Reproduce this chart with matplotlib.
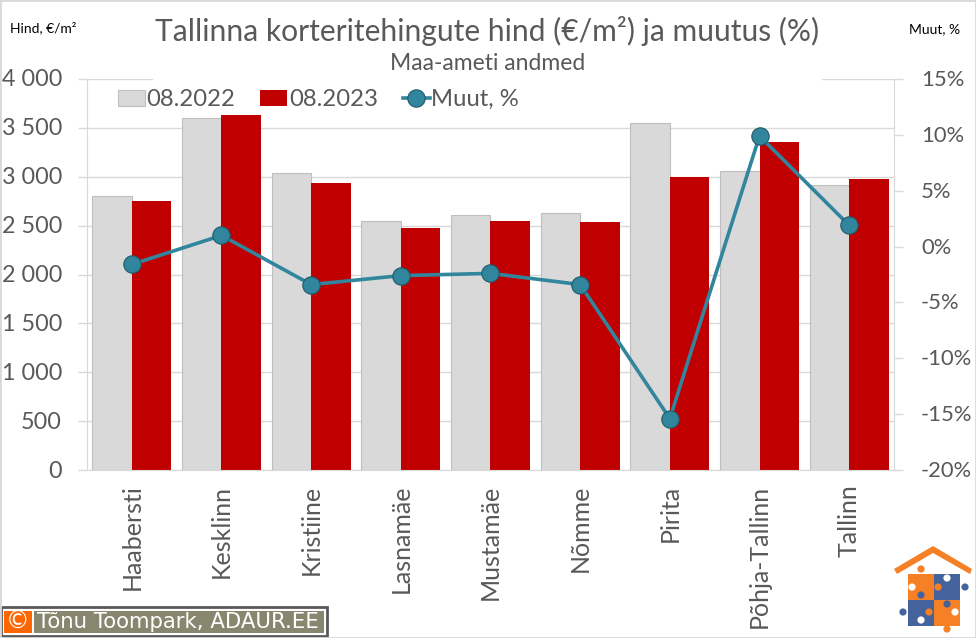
import matplotlib
matplotlib.use('Agg')
import matplotlib.pyplot as plt
import matplotlib.transforms as mtransforms
import numpy as np
from matplotlib.patches import Rectangle, Circle, Polygon

plt.rcParams['font.family'] = ['Lato', 'DejaVu Sans']

# Data
districts = ['Haabersti', 'Kesklinn', 'Kristiine', 'Lasnamäe', 'Mustamäe',
             'Nõmme', 'Pirita', 'Põhja-Tallinn', 'Tallinn']
price_2022 = [2800, 3600, 3040, 2550, 2610, 2630, 3550, 3060, 2920]
price_2023 = [2750, 3630, 2940, 2480, 2545, 2535, 3000, 3360, 2975]
change_pct = [-1.6, 1.0, -3.4, -2.6, -2.4, -3.4, -15.4, 9.9, 1.9]

left_ticks = [0, 500, 1000, 1500, 2000, 2500, 3000, 3500, 4000]
left_labels = ['0', '500', '1 000', '1 500', '2 000', '2 500', '3 000', '3 500', '4 000']
right_ticks = [-20, -15, -10, -5, 0, 5, 10, 15]

W, H = 976, 638
TEXT = '#595959'
GRID = '#d9d9d9'
GREY_BAR = '#d9d9d9'
RED_BAR = '#c00000'
LINE = '#31859c'


def px_x(x):
    return x / W


def px_y(y):
    return 1 - y / H


fig = plt.figure(figsize=(W / 100, H / 100), dpi=100)
fig.patch.set_facecolor('white')

ax = fig.add_axes([px_x(87), px_y(470), (894 - 87) / W, (470 - 79) / H])
x = np.arange(len(districts))
width = 0.44

ax.bar(x - width / 2, price_2022, width, color=GREY_BAR, edgecolor='#bfbfbf', linewidth=0.8, label='08.2022', zorder=2)
ax.bar(x + width / 2, price_2023, width, color=RED_BAR, label='08.2023', zorder=2)
ax.set_xlim(-0.5, len(districts) - 0.5)
ax.set_ylim(0, 4000)
ax.set_yticks(left_ticks)
ax.set_yticklabels(left_labels, fontsize=16.8, color=TEXT)
ax.set_xticks(x)
ax.set_xticklabels(districts, rotation=90, fontsize=18, color=TEXT)
ax.tick_params(axis='x', length=0, pad=10.5)
ax.tick_params(axis='y', length=6.5, color=GRID, width=1, pad=11.5)
ax.grid(axis='y', color=GRID, linewidth=1, zorder=0)
ax.set_axisbelow(True)
for side in ['top', 'right']:
    ax.spines[side].set_visible(False)
for side in ['left', 'bottom']:
    ax.spines[side].set_color(GRID)

ax2 = ax.twinx()
ax2.plot(x, change_pct, color=LINE, linewidth=2.6, marker='o', markersize=12.5,
         markerfacecolor=LINE, markeredgecolor='#215968', markeredgewidth=0.8,
         label='Muut, %', zorder=5)
ax2.set_ylim(-20, 15)
ax2.set_yticks(right_ticks)
ax2.set_yticklabels([f'{t}%' for t in right_ticks], fontsize=15.8, color=TEXT)
ax2.tick_params(axis='y', length=6.5, color=GRID, width=1, pad=13)
for side in ['top', 'left', 'bottom']:
    ax2.spines[side].set_visible(False)
ax2.spines['right'].set_color(GRID)

# tick labels sit a pixel above their ticks in the reference
nudge = mtransforms.ScaledTranslation(0, 1 / 100, fig.dpi_scale_trans)
for lab in ax.get_yticklabels() + ax2.get_yticklabels():
    lab.set_transform(lab.get_transform() + nudge)

# Legend sits on top of the plot
handles = ax.get_legend_handles_labels()[0] + ax2.get_legend_handles_labels()[0]
labels = ax.get_legend_handles_labels()[1] + ax2.get_legend_handles_labels()[1]
leg = ax2.legend(handles, labels, ncol=3, loc='center left', frameon=False, fontsize=17.2,
                 bbox_to_anchor=((118 - 87) / 807, 0.947), labelcolor=TEXT,
                 handlelength=1.13, handletextpad=0.06, columnspacing=1.05, borderaxespad=0,
                 borderpad=0)

# Titles and the axis captions
fig.text(px_x(487), px_y(31), 'Tallinna korteritehingute hind (€/m²) ja muutus (%)',
         fontsize=21.6, color=TEXT, ha='center', va='center')
fig.text(px_x(488), px_y(64), 'Maa-ameti andmed', fontsize=16.5, color=TEXT, ha='center', va='center')
fig.text(px_x(10), px_y(28), 'Hind, €/m²', fontsize=10, color='black', ha='left', va='center')
fig.text(px_x(909), px_y(29), 'Muut, %', fontsize=10, color='black', ha='left', va='center')

# Outer border of the picture
fig.add_artist(Rectangle((0, 0), 1, 1, transform=fig.transFigure, fill=False, edgecolor='#d9d9d9', linewidth=2))

# Overlay in pixel coordinates for the bits that are not chart data
px = fig.add_axes([0, 0, 1, 1], facecolor='none')
px.set_xlim(0, W)
px.set_ylim(H, 0)
px.axis('off')

# the subtitle box hides the middle of the top gridline
px.add_patch(Rectangle((153, 76), 669, 5, facecolor='white', edgecolor='none'))

# Copyright badge
px.add_patch(Rectangle((1, 607), 326, 29, facecolor='white', edgecolor='#595959', linewidth=2))
px.add_patch(Rectangle((4, 611), 28, 22, facecolor='#ff6600', edgecolor='none'))
px.add_patch(Rectangle((34, 611), 290, 22, facecolor='#87876f', edgecolor='none'))
px.text(18, 622, '©', fontsize=17, color='white', ha='center', va='center', family='DejaVu Sans')
px.text(37, 622.5, 'Tõnu Toompark, ADAUR.EE', fontsize=15.3, color='white', ha='left', va='center',
        family='DejaVu Sans')

# House and puzzle logo
ORANGE = '#f58025'
BLUE = '#44629c'
px.add_patch(Polygon([(894, 569), (933, 546), (972, 569), (970, 574), (933, 553), (897, 574)],
                     facecolor=ORANGE, edgecolor='none'))
px.add_patch(Rectangle((908, 574), 26, 26, facecolor=ORANGE, edgecolor='none'))
px.add_patch(Rectangle((934, 574), 26, 26, facecolor=BLUE, edgecolor='none'))
px.add_patch(Rectangle((908, 600), 26, 26, facecolor=BLUE, edgecolor='none'))
px.add_patch(Rectangle((934, 600), 26, 26, facecolor=ORANGE, edgecolor='none'))
for cx, cy, col in [(921, 569, ORANGE), (912, 587, 'white'), (938, 587, ORANGE), (947, 578, 'white'),
                    (965, 587, BLUE), (921, 595, BLUE), (903, 612, BLUE), (947, 604, BLUE),
                    (929, 612, ORANGE), (921, 620, 'white'), (955, 612, 'white'), (947, 629, ORANGE)]:
    px.add_patch(Circle((cx, cy), 3.6, facecolor=col, edgecolor='none'))

fig.savefig('out.png', dpi=100)
